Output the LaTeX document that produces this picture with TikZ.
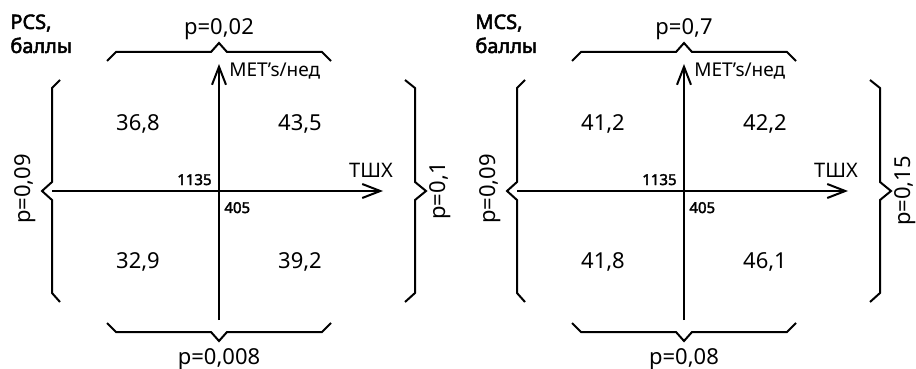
\documentclass[tikz,border=0pt]{standalone}
\usepackage{fontspec}
\setmainfont{Noto Sans}[AutoFakeBold=2.5]
\usetikzlibrary{arrows.meta}

\begin{document}
\begin{tikzpicture}[x=0.5pt,y=-0.5pt,
  every node/.style={inner sep=0pt},
  num/.style={font=\fontsize{11}{13}\selectfont,anchor=base},
  pval/.style={font=\fontsize{11}{13}\selectfont},
  axlab/.style={font=\fontsize{9.5}{11}\selectfont,anchor=base west},
  cutlab/.style={font=\fontsize{7.5}{9}\selectfont\bfseries},
  ttl/.style={font=\fontsize{10}{12}\selectfont\bfseries,anchor=base west},
  brc/.style={line width=1pt,line join=miter},
  axis/.style={line width=1pt,-{Straight Barb[length=9pt,width=7pt,line width=1pt]}}]
\useasboundingbox (0,0) rectangle (916,369);
% PCS panel
\begin{scope}
\node[ttl] (pcs) at (10,29) {PCS,};
\node[ttl] (pcsu) at (10,53) {баллы};
\draw[brc] (107,61) -- (116,52) -- (211,52) -- (219,43) -- (227,52) -- (322,52) -- (331,61);
\draw[brc] (107,323) -- (116,332) -- (211,332) -- (219,341) -- (227,332) -- (322,332) -- (331,323);
\draw[brc] (60,80) -- (52,88) -- (52,182) -- (42,191) -- (52,200) -- (52,293) -- (60,302);
\draw[brc] (405,80) -- (415,88) -- (415,182) -- (426,191) -- (415,200) -- (415,293) -- (405,302);
\coordinate (vb) at (219,320); \coordinate (vt) at (219,64);
\coordinate (hl) at (52,191);  \coordinate (hr) at (383,191);
\draw[axis] (vb) -- (vt);
\draw[axis] (hl) -- (hr);
\node[axlab] (met) at (229,77) {MET's/нед};
\node[font=\fontsize{10}{12}\selectfont,anchor=base] (tsh) at (371,177) {ТШХ};
\node[cutlab,anchor=base east] (c1) at (212,185) {1135};
\node[cutlab,anchor=base west] (c2) at (224,213) {405};
\node[num] (q1) at (138,131) {36,8};
\node[num] (q2) at (300,131) {43,5};
\node[num] (q3) at (138,268) {32,9};
\node[num] (q4) at (300,268) {39,2};
\node[pval,anchor=base] (pt) at (219,35) {p=0,02};
\node[pval,anchor=base] (pb) at (219,364) {p=0,008};
\node[pval,rotate=90] (pl) at (25,189) {p=0,09};
\node[pval,rotate=90] (pr) at (440,191) {p=0,1};
\end{scope}
% MCS panel
\begin{scope}[shift={(465,0)}]
\node[ttl] (mcs) at (10,29) {MCS,};
\node[ttl] (mcsu) at (10,53) {баллы};
\draw[brc] (107,61) -- (116,52) -- (211,52) -- (219,43) -- (227,52) -- (322,52) -- (331,61);
\draw[brc] (107,323) -- (116,332) -- (211,332) -- (219,341) -- (227,332) -- (322,332) -- (331,323);
\draw[brc] (60,80) -- (52,88) -- (52,182) -- (42,191) -- (52,200) -- (52,293) -- (60,302);
\draw[brc] (405,80) -- (415,88) -- (415,182) -- (426,191) -- (415,200) -- (415,293) -- (405,302);
\coordinate (mvb) at (219,320); \coordinate (mvt) at (219,64);
\coordinate (mhl) at (52,191);  \coordinate (mhr) at (383,191);
\draw[axis] (mvb) -- (mvt);
\draw[axis] (mhl) -- (mhr);
\node[axlab] (mmet) at (229,77) {MET's/нед};
\node[font=\fontsize{10}{12}\selectfont,anchor=base] (mtsh) at (371,177) {ТШХ};
\node[cutlab,anchor=base east] (mc1) at (212,185) {1135};
\node[cutlab,anchor=base west] (mc2) at (224,213) {405};
\node[num] (mq1) at (138,131) {41,2};
\node[num] (mq2) at (300,131) {42,2};
\node[num] (mq3) at (138,268) {41,8};
\node[num] (mq4) at (300,268) {46,1};
\node[pval,anchor=base] (mpt) at (219,35) {p=0,7};
\node[pval,anchor=base] (mpb) at (219,364) {p=0,08};
\node[pval,rotate=90] (mpl) at (25,189) {p=0,09};
\node[pval,rotate=90] (mpr) at (440,191) {p=0,15};
\end{scope}
\end{tikzpicture}
\end{document}
